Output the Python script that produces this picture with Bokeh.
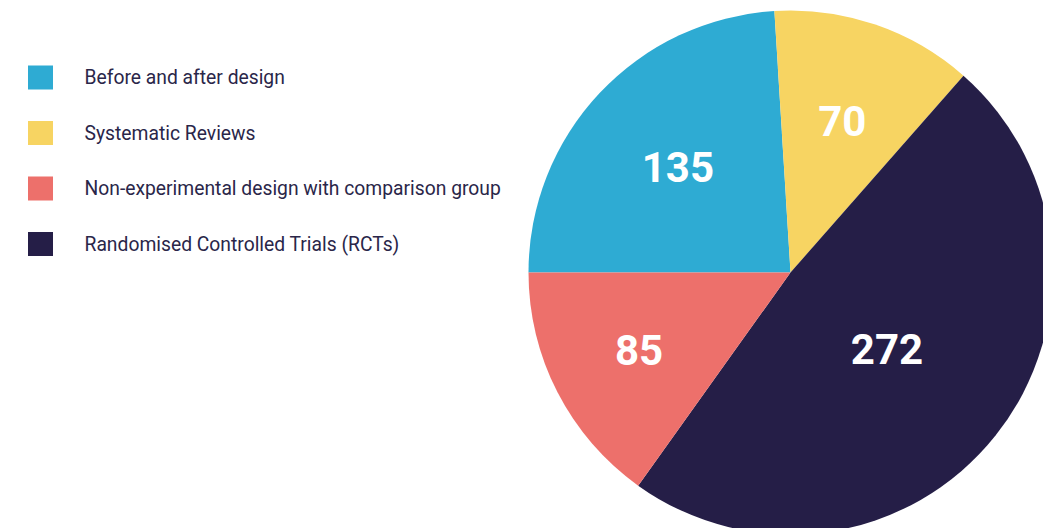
import math
from bokeh.plotting import figure
from bokeh.models import Range1d
from bokeh.core.properties import value
from bokeh.embed import file_html
from bokeh.resources import INLINE

categories = ["Before and after design", "Systematic Reviews",
              "Non-experimental design with comparison group",
              "Randomised Controlled Trials (RCTs)"]
counts = [135, 70, 85, 272]
colors = ["#2eabd3", "#f7d462", "#ed706b", "#251e47"]
# order of slices clockwise from the 9 o'clock position
pie_order = [0, 1, 3, 2]

# layout constants (pixel-like data units)
W, H = 1043, 528
cx, cy, R = 790, 256, 262
label_r = {0: 0.59, 1: 0.61, 3: 0.47, 2: 0.65}

p = figure(width=W, height=H, output_backend="svg", toolbar_location=None,
           x_range=Range1d(0, W), y_range=Range1d(0, H), min_border=0)
p.axis.visible = False
p.grid.visible = False
p.outline_line_color = None
p.background_fill_color = "white"

total = sum(counts)
start = math.pi
starts, ends, lx, ly, wcol, wtxt = [], [], [], [], [], []
for i in pie_order:
    c = counts[i]
    a = c / total * 2 * math.pi
    s, e = start, start - a
    starts.append(s)
    ends.append(e)
    m = (s + e) / 2
    lx.append(cx + R * label_r[i] * math.cos(m))
    ly.append(cy + R * label_r[i] * math.sin(m))
    wcol.append(colors[i])
    wtxt.append(str(c))
    start = e

p.wedge(x=cx, y=cy, radius=R, start_angle=starts, end_angle=ends,
        direction="clock", fill_color=wcol, line_color=None)
p.text(x=lx, y=ly, text=wtxt, text_color="white",
       text_font=value("Roboto"), text_font_style="bold", text_font_size="42px",
       text_align="center", text_baseline="middle")

# legend
ys = [H - 77 - i * 55.5 for i in range(len(categories))]
p.rect(x=[40] * 4, y=ys, width=25, height=24, fill_color=colors, line_color=None)
p.text(x=[84] * 4, y=ys, text=categories, text_color="#2a2649",
       text_font=value("Roboto"), text_font_size="19.3px",
       text_align="left", text_baseline="middle")

open("out.html", "w").write(file_html(p, INLINE))
